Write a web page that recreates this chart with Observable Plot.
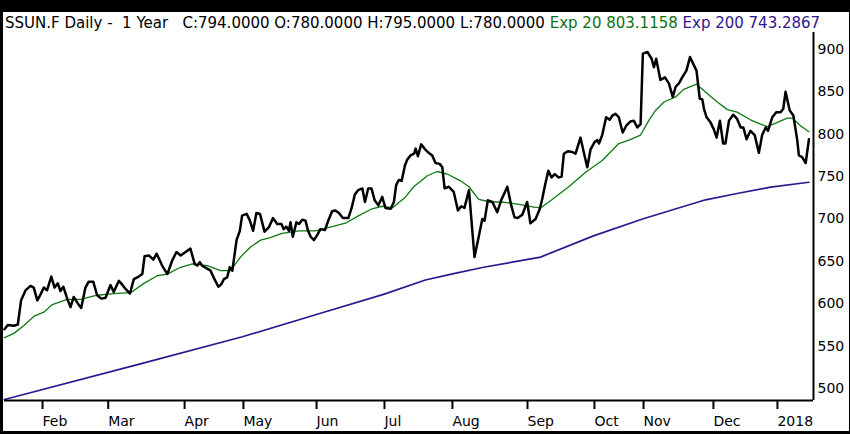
<!DOCTYPE html>
<html><head><meta charset="utf-8">
<script src="https://cdn.jsdelivr.net/npm/d3@7"></script>
<script src="https://cdn.jsdelivr.net/npm/@observablehq/plot@0.6"></script>
<style>
html,body{margin:0;padding:0;background:#000;width:850px;height:434px;overflow:hidden;}
#frame{position:absolute;left:3px;top:12px;width:846px;height:419px;background:#fff;}
#title{position:absolute;left:5px;top:15px;font-family:"DejaVu Sans";font-size:15px;line-height:17px;white-space:pre;color:#000;}
#chart{position:absolute;left:0;top:0;}
</style></head><body>
<div id="frame"></div>
<div id="chart"></div>
<div id="title"></div>
<script>
// Header texts
const titleMain = "SSUN.F Daily -  1 Year   C:794.0000 O:780.0000 H:795.0000 L:780.0000 ";
const titleEma20 = "Exp 20 803.1158";
const titleEma200 = " Exp 200 743.2867";

// x = trading-day index (0 = first day shown), values in EUR
const price = [[0,570],[1.0,575],[2.9,574],[4.1,575.5],[5.1,604],[6.5,616],[8.0,621],[9.0,619],[10.1,604],[11.1,611],[12.1,619],[13.1,616],[14.4,632],[15.4,619],[16.4,624],[17.2,615],[18.1,620],[19.3,606],[20.3,596],[21.3,608],[22.6,600],[23.6,595],[24.9,619],[25.9,626],[27.3,626],[28.5,610],[29.8,606],[31.1,607],[32.6,622],[33.6,614],[35.2,627],[35.9,624],[36.9,619],[38.6,612],[39.8,629],[41.3,632],[42.4,635],[43.1,656],[44.4,657],[45.8,652],[46.8,659],[48.5,645],[50.1,635],[51.6,651],[52.9,661],[54.2,657],[55.7,661],[57.2,665],[58.5,647],[59.3,645],[60.1,649],[60.8,645],[63.4,639],[64.6,629],[65.8,620],[66.7,623],[67.5,629],[68.5,631],[69.3,643],[70.1,639],[71.4,675],[72.4,686],[73.1,704],[74.5,706],[75.5,698],[76.5,686],[77.5,707],[78.6,706],[80.0,685],[81.3,690],[82.6,701],[83.9,694],[85.2,694],[85.9,688],[86.7,691],[87.5,686],[88.0,696],[88.7,679],[89.8,696],[90.6,694],[91.6,699],[92.6,698],[93.4,686],[94.2,679],[95.2,675],[96.2,681],[97.2,688],[98.6,687],[99.6,698],[100.8,709],[101.8,710],[102.9,707],[104.1,701],[105.8,701],[106.8,713],[107.8,729],[108.8,734],[110.1,736],[110.9,720],[111.9,736],[112.9,736],[113.9,722],[115.0,716],[116.2,726],[117.2,713],[118.8,712],[119.8,720],[120.5,740],[121.3,746],[122.2,745],[123.2,763],[123.9,770],[124.9,775],[126.0,777],[126.5,783],[127.2,774],[128.2,788],[129.2,783],[130.2,779],[131.6,775],[132.6,766],[133.9,765],[134.7,761],[135.4,736],[136.7,738],[138.2,732],[139.5,710],[140.5,715],[141.5,713],[142.9,734],[144.6,655],[145.9,679],[147.0,700],[147.7,698],[148.7,722],[150.1,720],[151.6,708],[152.8,722],[154.7,738],[155.9,716],[156.9,702],[157.9,701],[159.3,705],[160.8,720],[161.8,695],[163.4,700],[164.7,712],[165.4,723],[166.2,738],[167.3,757],[168.3,749],[169.3,753],[170.4,749],[171.4,750],[172.1,777],[173.4,780],[174.7,779],[175.7,777],[177.2,796],[178.2,779],[179.3,761],[180.3,782],[181.6,791],[182.4,793],[182.9,789],[183.9,799],[185.1,820],[186.2,817],[187.0,822],[188.0,824],[189.0,820],[190.2,802],[191.3,810],[192.6,815],[193.6,816],[194.7,808],[195.7,812],[196.4,895],[197.8,897],[199.1,889],[199.8,879],[200.5,889],[201.8,864],[203.2,867],[204.4,860],[205.6,844],[206.5,856],[207.5,860],[208.5,867],[209.8,875],[210.9,891],[211.9,883],[212.9,875],[213.9,842],[214.7,841],[215.2,830],[216.0,820],[217.2,814],[218.2,806],[219.1,796],[220.1,816],[221.1,789],[221.8,789],[222.9,816],[224.2,823],[225.4,818],[226.5,808],[227.3,808],[228.3,794],[229.5,804],[230.8,799],[232.1,778],[233.1,799],[234.2,808],[234.9,804],[236.2,820],[237.5,826],[238.8,826],[239.6,830],[240.3,850],[241.0,838],[241.6,828],[242.7,822],[243.9,793],[244.4,775],[245.4,773],[246.5,766],[247.5,794]];

const ema20 = [[0,560],[2.9,565],[5.9,574],[9.0,585],[12.1,590],[14.7,599],[19.3,605],[23.4,605],[28.5,610],[33.6,612],[38.8,613],[42.9,624],[47.0,633],[50.1,635],[54.2,643],[57.8,647],[62.4,645],[66.5,639],[69.5,639],[72.6,655],[75.7,667],[78.8,675],[81.8,678],[85.4,683],[90.6,686],[95.7,686],[100.8,691],[104.9,695],[109.0,704],[113.1,712],[116.2,715],[119.3,713],[123.4,726],[125.9,738],[130.1,751],[133.1,756],[136.2,753],[140.3,745],[142.9,738],[145.9,723],[149.5,720],[152.6,720],[155.2,719],[158.8,717],[162.9,714],[164.9,713],[168.5,723],[173.6,738],[178.8,755],[183.9,769],[189.0,789],[192.1,793],[195.7,799],[198.2,816],[200.3,828],[202.9,838],[206.5,844],[209.0,853],[212.9,859],[216.2,848],[219.3,838],[222.4,829],[225.4,826],[229.5,817],[232.6,812],[234.7,809],[237.8,814],[240.8,819],[242.4,819],[244.9,810],[247.5,803]];

const ema200 = [[0,487],[41.8,529],[73.2,561],[95.7,587],[116.6,611],[129.5,628],[137.5,635],[147.4,643],[160.6,652],[164.9,655],[181.2,680],[196.3,700],[215.7,722.6],[225.4,730],[235.7,737.5],[247.5,743.3]];

const monthDays = [11.4, 31.6, 55.1, 73.2, 95.7, 116.6, 137.5, 160.6, 181.2, 196.3, 217.8, 237.5];
const monthLabels = ["Feb","Mar","Apr","May","Jun","Jul","Aug","Sep","Oct","Nov","Dec","2018"];
const yTicks = [500, 550, 600, 650, 700, 750, 800, 850, 900];

const toRows = a => a.map(([t, v]) => ({t, v}));
const labelMap = new Map(monthDays.map((d, i) => [d, monthLabels[i]]));

const xMax = 248.9, yMin = 485.8, yMax = 920;

const title = document.getElementById("title");
title.append(document.createTextNode(titleMain));
const s1 = document.createElement("span"); s1.style.color = "#0e6f12"; s1.textContent = titleEma20; title.append(s1);
const s2 = document.createElement("span"); s2.style.color = "#2e1689"; s2.textContent = titleEma200; title.append(s2);

const chart = Plot.plot({
  width: 850, height: 434,
  marginLeft: 4, marginRight: 37, marginTop: 32, marginBottom: 34,
  style: {background: "transparent", fontFamily: "DejaVu Sans", fontSize: "14px", color: "#000"},
  x: {domain: [0, xMax]},
  y: {domain: [yMin, yMax]},
  marks: [
    Plot.line(toRows(ema200), {x: "t", y: "v", stroke: "#2b1a8f", strokeWidth: 1.7}),
    Plot.line(toRows(ema20), {x: "t", y: "v", stroke: "#0e7a12", strokeWidth: 1.3}),
    Plot.line(toRows(price), {x: "t", y: "v", stroke: "#000", strokeWidth: 2.5, strokeLinejoin: "round"}),
    Plot.ruleY([yMin], {stroke: "#000", strokeWidth: 2}),
    Plot.ruleX([xMax], {stroke: "#000", strokeWidth: 2}),
    Plot.axisY({anchor: "right", ticks: yTicks, tickSize: 0, tickPadding: 4, label: null, fontSize: 14}),
    Plot.axisX({ticks: monthDays, tickFormat: d => labelMap.get(d), tickSize: 9, tickPadding: 7, textAnchor: "start", dx: 1, label: null, fontSize: 14, strokeWidth: 2})
  ]
});
document.getElementById("chart").append(chart);
</script></body></html>
